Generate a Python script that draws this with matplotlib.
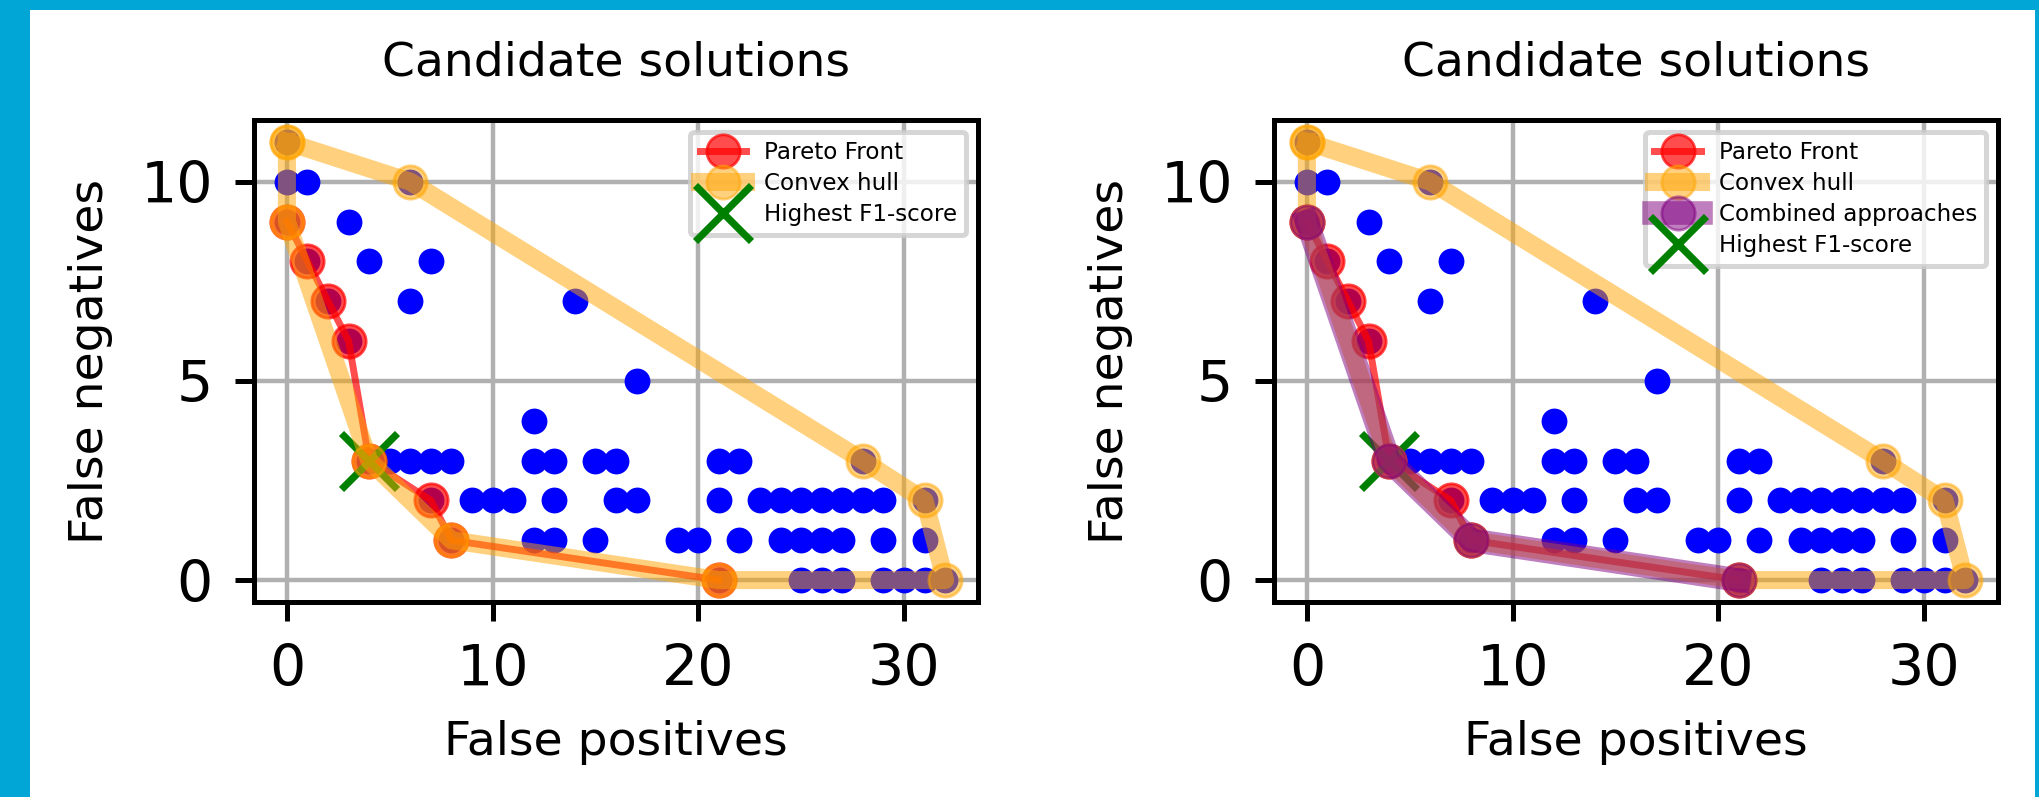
import matplotlib
matplotlib.use("Agg")
import matplotlib.pyplot as plt
from matplotlib.patches import Rectangle

# ---------------- data ----------------
scatter_fp = [0, 0, 1, 6, 0, 3, 1, 4, 7, 2, 6, 14, 3, 17, 12,
              4, 5, 6, 7, 8, 12, 13, 15, 16, 21, 22, 28,
              7, 9, 10, 11, 13, 16, 17, 21, 23, 24, 25, 26, 27, 28, 29, 31,
              8, 12, 13, 15, 19, 20, 22, 24, 25, 26, 27, 29, 31,
              21, 25, 26, 27, 29, 30, 31, 32]
scatter_fn = [11, 10, 10, 10, 9, 9, 8, 8, 8, 7, 7, 7, 6, 5, 4,
              3, 3, 3, 3, 3, 3, 3, 3, 3, 3, 3, 3,
              2, 2, 2, 2, 2, 2, 2, 2, 2, 2, 2, 2, 2, 2, 2, 2,
              1, 1, 1, 1, 1, 1, 1, 1, 1, 1, 1, 1, 1,
              0, 0, 0, 0, 0, 0, 0, 0]

pareto_fp = [0, 1, 2, 3, 4, 7, 8, 21]
pareto_fn = [9, 8, 7, 6, 3, 2, 1, 0]

hull_fp = [0, 6, 28, 31, 32, 21, 8, 4, 0, 0]
hull_fn = [11, 10, 3, 2, 0, 0, 1, 3, 9, 11]

combined_fp = [0, 4, 8, 21]
combined_fn = [9, 3, 1, 0]

best_fp = [4]
best_fn = [3]

title = "Candidate solutions"
xlabel = "False positives"
ylabel = "False negatives"
xticks = [0, 10, 20, 30]
yticks = [0, 5, 10]

# ---------------- figure ----------------
W, H, DPI = 2040, 797, 200
fig = plt.figure(figsize=(W / DPI, H / DPI), dpi=DPI)
fig.patch.set_facecolor("#02A6D6")
fig.add_artist(Rectangle((30 / W, 0), (2035 - 30) / W, 787 / H,
                         transform=fig.transFigure, facecolor="white",
                         edgecolor="none", zorder=0))

ax_w = 724 / W
ax_h = 482 / H
ax_b = 1 - 602 / H
lefts = [254 / W, 1274 / W]


def draw(ax, with_combined):
    ax.plot(scatter_fp, scatter_fn, "o", color="blue", markersize=8.3,
            linestyle="none", zorder=2)
    h_p, = ax.plot(pareto_fp, pareto_fn, "o-", color="red", alpha=0.7,
                   markersize=12, linewidth=2.5, label="Pareto Front", zorder=3)
    h_b, = ax.plot(best_fp, best_fn, "x", color="green", markersize=20,
                   markeredgewidth=2.6, linestyle="none",
                   label="Highest F1-score", zorder=3)
    h_h, = ax.plot(hull_fp, hull_fn, "o-", color="orange", alpha=0.5,
                   markersize=12, linewidth=6.5, label="Convex hull", zorder=4)
    handles = [h_p, h_h]
    if with_combined:
        h_c, = ax.plot(combined_fp, combined_fn, "o-", color="purple",
                       alpha=0.5, markersize=12, linewidth=8.5,
                       label="Combined approaches", zorder=5)
        handles.append(h_c)
    handles.append(h_b)

    ax.set_xticks(xticks)
    ax.set_yticks(yticks)
    ax.grid(True, color="#b0b0b0", linewidth=1.6)
    ax.set_axisbelow(True)
    ax.tick_params(labelsize=20.5, length=6.8, width=1.8, pad=8)
    for s in ax.spines.values():
        s.set_linewidth(1.8)
    ax.set_title(title, fontsize=17, pad=16)
    ax.set_xlabel(xlabel, fontsize=17, labelpad=8)
    ax.set_ylabel(ylabel, fontsize=17, labelpad=10)
    leg = ax.legend(handles=handles, loc="upper right", fontsize=8.3,
                    labelspacing=0.35)
    leg.get_frame().set_linewidth(1.8)


for i, left in enumerate(lefts):
    ax = fig.add_axes([left, ax_b, ax_w, ax_h])
    draw(ax, with_combined=(i == 1))

fig.savefig("out.png", dpi=DPI, facecolor=fig.get_facecolor())
